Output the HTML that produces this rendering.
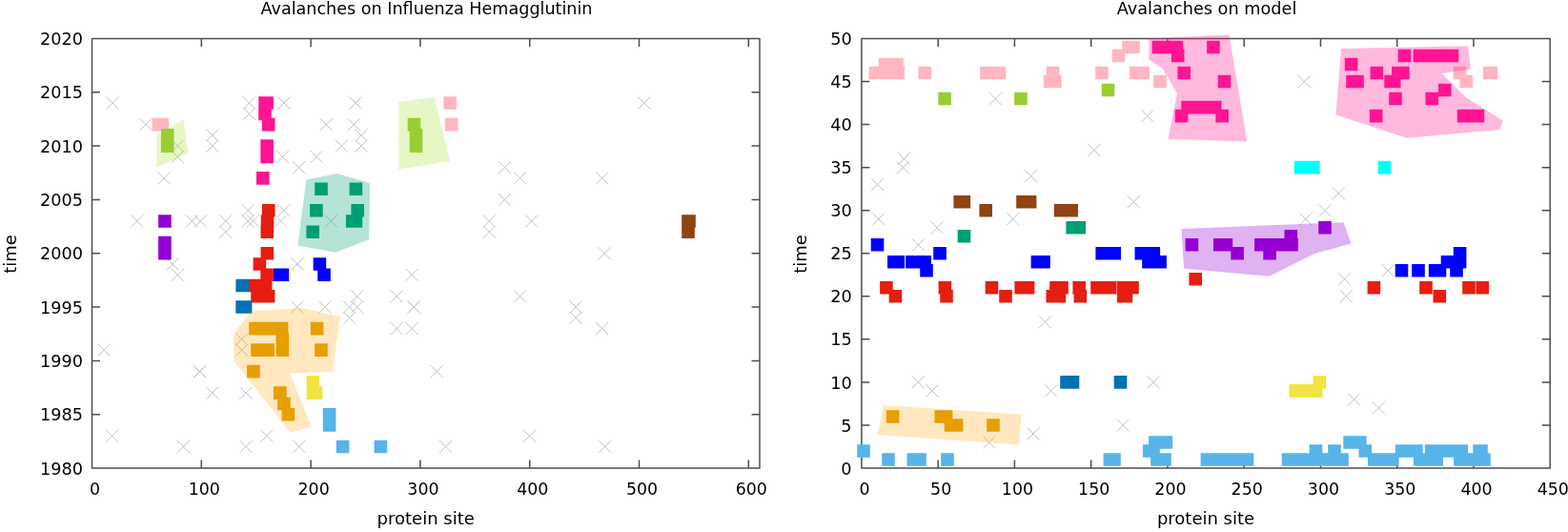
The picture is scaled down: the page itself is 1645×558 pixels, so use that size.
<!DOCTYPE html><html><head><meta charset="utf-8"><title>Avalanches</title><style>html,body{margin:0;padding:0;background:#fff;}svg{display:block;}text{font-family:'DejaVu Sans', 'Liberation Sans', sans-serif;font-size:18px;fill:#000;}</style></head><body>
<svg width="1645" height="558" viewBox="0 0 1645 558">
<rect width="1645" height="558" fill="#fff"/>
<path d="M111.7 101.57L124.7 114.57M111.7 114.57L124.7 101.57M291.5 101.57L304.5 114.57M291.5 114.57L304.5 101.57M146.5 124.1L159.5 137.1M146.5 137.1L159.5 124.1M179.8 146.62L192.8 159.62M179.8 159.62L192.8 146.62M179.8 157.89L192.8 170.89M179.8 170.89L192.8 157.89M216.4 135.36L229.4 148.36M216.4 148.36L229.4 135.36M216.4 146.62L229.4 159.62M216.4 159.62L229.4 146.62M165.8 180.41L178.8 193.41M165.8 193.41L178.8 180.41M137.2 225.46L150.2 238.46M137.2 238.46L150.2 225.46M194.9 225.46L207.9 238.46M194.9 238.46L207.9 225.46M203.9 225.46L216.9 238.46M203.9 238.46L216.9 225.46M230.2 225.46L243.2 238.46M230.2 238.46L243.2 225.46M230.2 236.72L243.2 249.72M230.2 249.72L243.2 236.72M174.5 270.51L187.5 283.51M174.5 283.51L187.5 270.51M179.8 281.77L192.8 294.77M179.8 294.77L192.8 281.77M102.8 360.61L115.8 373.61M102.8 373.61L115.8 360.61M203 383.14L216 396.14M203 396.14L216 383.14M203 383.14L216 396.14M203 396.14L216 383.14M203 383.14L216 396.14M203 396.14L216 383.14M216.4 405.66L229.4 418.66M216.4 418.66L229.4 405.66M111 450.71L124 463.71M111 463.71L124 450.71M185.8 461.98L198.8 474.98M185.8 474.98L198.8 461.98M255 101.57L268 114.57M255 114.57L268 101.57M255 112.84L268 125.84M255 125.84L268 112.84M291.5 101.57L304.5 114.57M291.5 114.57L304.5 101.57M335.7 124.1L348.7 137.1M335.7 137.1L348.7 124.1M366.4 101.57L379.4 114.57M366.4 114.57L379.4 101.57M364.7 124.1L377.7 137.1M364.7 137.1L377.7 124.1M372.5 135.36L385.5 148.36M372.5 148.36L385.5 135.36M372.5 146.62L385.5 159.62M372.5 159.62L385.5 146.62M351.8 146.62L364.8 159.62M351.8 159.62L364.8 146.62M289.8 157.89L302.8 170.89M289.8 170.89L302.8 157.89M307.3 169.15L320.3 182.15M307.3 182.15L320.3 169.15M325.5 157.89L338.5 170.89M325.5 170.89L338.5 157.89M340.8 225.46L353.8 238.46M340.8 238.46L353.8 225.46M253.6 214.2L266.6 227.2M253.6 227.2L266.6 214.2M253.6 225.46L266.6 238.46M253.6 238.46L266.6 225.46M259 225.46L272 238.46M259 238.46L272 225.46M291.2 214.2L304.2 227.2M291.2 227.2L304.2 214.2M288 225.46L301 238.46M288 238.46L301 225.46M305.5 270.51L318.5 283.51M305.5 283.51L318.5 270.51M305.2 315.56L318.2 328.56M305.2 328.56L318.2 315.56M334.3 315.56L347.3 328.56M334.3 328.56L347.3 315.56M368.2 304.3L381.2 317.3M368.2 317.3L381.2 304.3M368.2 315.56L381.2 328.56M368.2 328.56L381.2 315.56M360.1 315.56L373.1 328.56M360.1 328.56L373.1 315.56M360.1 326.82L373.1 339.82M360.1 339.82L373.1 326.82M247.2 349.35L260.2 362.35M247.2 362.35L260.2 349.35M247.2 360.61L260.2 373.61M247.2 373.61L260.2 360.61M251.5 405.66L264.5 418.66M251.5 418.66L264.5 405.66M273.4 450.71L286.4 463.71M273.4 463.71L286.4 450.71M251.5 461.98L264.5 474.98M251.5 474.98L264.5 461.98M307.4 461.98L320.4 474.98M307.4 474.98L320.4 461.98M523 169.15L536 182.15M523 182.15L536 169.15M669.4 101.57L682.4 114.57M669.4 114.57L682.4 101.57M539 180.41L552 193.41M539 193.41L552 180.41M625.1 180.41L638.1 193.41M625.1 193.41L638.1 180.41M522.9 202.94L535.9 215.94M522.9 215.94L535.9 202.94M551.1 225.46L564.1 238.46M551.1 238.46L564.1 225.46M627.7 259.25L640.7 272.25M627.7 272.25L640.7 259.25M539 304.3L552 317.3M539 317.3L552 304.3M597.6 315.56L610.6 328.56M597.6 328.56L610.6 315.56M597.6 326.82L610.6 339.82M597.6 339.82L610.6 326.82M625.1 338.09L638.1 351.09M625.1 351.09L638.1 338.09M506.8 225.46L519.8 238.46M506.8 238.46L519.8 225.46M506.8 236.72L519.8 249.72M506.8 249.72L519.8 236.72M425.5 281.77L438.5 294.77M425.5 294.77L438.5 281.77M409.6 304.3L422.6 317.3M409.6 317.3L422.6 304.3M427.7 315.56L440.7 328.56M427.7 328.56L440.7 315.56M427.7 315.56L440.7 328.56M427.7 328.56L440.7 315.56M409.6 338.09L422.6 351.09M409.6 351.09L422.6 338.09M425.5 338.09L438.5 351.09M425.5 351.09L438.5 338.09M451.6 383.14L464.6 396.14M451.6 396.14L464.6 383.14M549 450.71L562 463.71M549 463.71L562 450.71M628.3 461.98L641.3 474.98M628.3 474.98L641.3 461.98M461.2 461.98L474.2 474.98M461.2 474.98L474.2 461.98" stroke="#c2c2c2" stroke-width="1" fill="none"/>
<path d="M96.5 40.5H797V491H96.5ZM96.5 491v-8.5M96.5 40.5v8.5M211.3 491v-8.5M211.3 40.5v8.5M326.1 491v-8.5M326.1 40.5v8.5M440.9 491v-8.5M440.9 40.5v8.5M555.7 491v-8.5M555.7 40.5v8.5M670.5 491v-8.5M670.5 40.5v8.5M785.3 491v-8.5M785.3 40.5v8.5M96.5 491h8.5M797 491h-8.5M96.5 434.69h8.5M797 434.69h-8.5M96.5 378.38h8.5M797 378.38h-8.5M96.5 322.06h8.5M797 322.06h-8.5M96.5 265.75h8.5M797 265.75h-8.5M96.5 209.44h8.5M797 209.44h-8.5M96.5 153.12h8.5M797 153.12h-8.5M96.5 96.81h8.5M797 96.81h-8.5M96.5 40.5h8.5M797 40.5h-8.5" stroke="#4d4d4d" stroke-width="1.5" stroke-linejoin="round" fill="none"/>
<text transform="translate(99.5,519.3) scale(0.965,1)" text-anchor="middle">0</text>
<text transform="translate(214.3,519.3) scale(0.965,1)" text-anchor="middle">100</text>
<text transform="translate(329.1,519.3) scale(0.965,1)" text-anchor="middle">200</text>
<text transform="translate(443.9,519.3) scale(0.965,1)" text-anchor="middle">300</text>
<text transform="translate(558.7,519.3) scale(0.965,1)" text-anchor="middle">400</text>
<text transform="translate(673.5,519.3) scale(0.965,1)" text-anchor="middle">500</text>
<text transform="translate(788.3,519.3) scale(0.965,1)" text-anchor="middle">600</text>
<text transform="translate(86.9,497.6) scale(0.98,1)" text-anchor="end">1980</text>
<text transform="translate(86.9,441.29) scale(0.98,1)" text-anchor="end">1985</text>
<text transform="translate(86.9,384.98) scale(0.98,1)" text-anchor="end">1990</text>
<text transform="translate(86.9,328.66) scale(0.98,1)" text-anchor="end">1995</text>
<text transform="translate(86.9,272.35) scale(0.98,1)" text-anchor="end">2000</text>
<text transform="translate(86.9,216.04) scale(0.98,1)" text-anchor="end">2005</text>
<text transform="translate(86.9,159.72) scale(0.98,1)" text-anchor="end">2010</text>
<text transform="translate(86.9,103.41) scale(0.98,1)" text-anchor="end">2015</text>
<text transform="translate(86.9,47.1) scale(0.98,1)" text-anchor="end">2020</text>
<path d="M159.6 123.8h13.6v13.6h-13.6zM163.5 123.8h13.6v13.6h-13.6zM465.4 101.27h13.6v13.6h-13.6zM466.8 123.8h13.6v13.6h-13.6z" fill="#ffb6c1"/>
<polygon points="164.6,141.3 192.5,125.3 197.3,160.5 164.4,175.7" fill="#9bdb17" fill-opacity="0.25"/>
<path d="M168.9 135.06h13.6v13.6h-13.6zM168.9 146.32h13.6v13.6h-13.6z" fill="#9acd32"/>
<polygon points="418.3,106.9 455.7,101.9 472,169.2 418.3,177.8" fill="#9bdb17" fill-opacity="0.25"/>
<path d="M427.7 123.8h13.6v13.6h-13.6zM429.7 135.06h13.6v13.6h-13.6zM429.7 146.32h13.6v13.6h-13.6z" fill="#9acd32"/>
<path d="M271.3 101.27h13.6v13.6h-13.6zM273.3 101.27h13.6v13.6h-13.6zM271.2 112.54h13.6v13.6h-13.6zM274.9 123.8h13.6v13.6h-13.6zM273.3 146.32h13.6v13.6h-13.6zM273.3 157.59h13.6v13.6h-13.6zM269 180.11h13.6v13.6h-13.6z" fill="#ff1493"/>
<path d="M166.1 225.16h13.6v13.6h-13.6zM166.1 247.69h13.6v13.6h-13.6zM166.1 258.95h13.6v13.6h-13.6z" fill="#9400d3"/>
<polygon points="321.3,188.4 353.9,181.9 388.2,192.1 387.1,251 352.7,264.7 312.4,257.4" fill="#009e73" fill-opacity="0.29"/>
<path d="M330.2 191.38h13.6v13.6h-13.6zM366.6 191.38h13.6v13.6h-13.6zM325.1 213.9h13.6v13.6h-13.6zM368.4 213.9h13.6v13.6h-13.6zM362.9 225.16h13.6v13.6h-13.6zM366.6 225.16h13.6v13.6h-13.6zM321.4 236.42h13.6v13.6h-13.6z" fill="#009e73"/>
<path d="M274.9 213.9h13.6v13.6h-13.6zM273.7 225.16h13.6v13.6h-13.6zM273.5 236.42h13.6v13.6h-13.6zM273.5 258.95h13.6v13.6h-13.6zM265.6 270.21h13.6v13.6h-13.6zM273.3 281.47h13.6v13.6h-13.6zM261 292.74h13.6v13.6h-13.6zM271.8 292.74h13.6v13.6h-13.6zM263.2 304h13.6v13.6h-13.6zM274.8 304h13.6v13.6h-13.6z" fill="#e51e10"/>
<path d="M286.9 281.47h13.6v13.6h-13.6zM289.6 281.47h13.6v13.6h-13.6zM328.6 270.21h13.6v13.6h-13.6zM333.2 281.47h13.6v13.6h-13.6z" fill="#0000ff"/>
<path d="M247.4 292.74h13.6v13.6h-13.6zM247.3 315.26h13.6v13.6h-13.6zM250.8 315.26h13.6v13.6h-13.6z" fill="#0072b2"/>
<polygon points="245,351 263.3,326.2 316,323 356.9,332 348.9,390 304.2,391.5 326.8,447.8 304.2,453.4 245.5,378.6" fill="#ffa500" fill-opacity="0.25"/>
<path d="M261.2 337.79h13.6v13.6h-13.6zM270.4 337.79h13.6v13.6h-13.6zM279.6 337.79h13.6v13.6h-13.6zM288.8 337.79h13.6v13.6h-13.6zM289.5 349.05h13.6v13.6h-13.6zM263.2 360.31h13.6v13.6h-13.6zM274.4 360.31h13.6v13.6h-13.6zM289.5 360.31h13.6v13.6h-13.6zM325.8 337.79h13.6v13.6h-13.6zM330.1 360.31h13.6v13.6h-13.6zM259.1 382.84h13.6v13.6h-13.6zM287 405.36h13.6v13.6h-13.6zM291.2 416.62h13.6v13.6h-13.6zM295.6 427.89h13.6v13.6h-13.6z" fill="#e69f00"/>
<path d="M321.6 394.1h13.6v13.6h-13.6zM321.6 405.36h13.6v13.6h-13.6zM324.7 405.36h13.6v13.6h-13.6z" fill="#f0e442"/>
<path d="M338.8 427.89h13.6v13.6h-13.6zM338.8 439.15h13.6v13.6h-13.6zM352.8 461.68h13.6v13.6h-13.6zM392.6 461.68h13.6v13.6h-13.6z" fill="#56b4e9"/>
<path d="M715.2 225.16h13.6v13.6h-13.6zM716.2 225.16h13.6v13.6h-13.6zM715.2 236.42h13.6v13.6h-13.6z" fill="#8f4412"/>
<path d="M1037.7 97.07L1050.7 110.07M1037.7 110.07L1050.7 97.07M941.9 160.14L954.9 173.14M941.9 173.14L954.9 160.14M940.7 169.15L953.7 182.15M940.7 182.15L953.7 169.15M914.1 187.17L927.1 200.17M914.1 200.17L927.1 187.17M915.3 223.21L928.3 236.21M915.3 236.21L928.3 223.21M976.5 232.22L989.5 245.22M976.5 245.22L989.5 232.22M956.9 250.24L969.9 263.24M956.9 263.24L969.9 250.24M1056.1 223.21L1069.1 236.21M1056.1 236.21L1069.1 223.21M1075.1 178.16L1088.1 191.16M1075.1 191.16L1088.1 178.16M1197.3 115.09L1210.3 128.09M1197.3 128.09L1210.3 115.09M1141.4 151.13L1154.4 164.13M1141.4 164.13L1154.4 151.13M1361.9 79.05L1374.9 92.05M1361.9 92.05L1374.9 79.05M1182.8 205.19L1195.8 218.19M1182.8 218.19L1195.8 205.19M1397.7 196.18L1410.7 209.18M1397.7 209.18L1410.7 196.18M1383.5 214.2L1396.5 227.2M1383.5 227.2L1396.5 214.2M1363.3 223.21L1376.3 236.21M1363.3 236.21L1376.3 223.21M1404.1 286.28L1417.1 299.28M1404.1 299.28L1417.1 286.28M1405.8 304.3L1418.8 317.3M1405.8 317.3L1418.8 304.3M1449.8 277.27L1462.8 290.27M1449.8 290.27L1462.8 277.27M956.9 394.4L969.9 407.4M956.9 407.4L969.9 394.4M971.4 403.41L984.4 416.41M971.4 416.41L984.4 403.41M1031.2 457.47L1044.2 470.47M1031.2 470.47L1044.2 457.47M1089.8 331.33L1102.8 344.33M1089.8 344.33L1102.8 331.33M1203.5 394.4L1216.5 407.4M1203.5 407.4L1216.5 394.4M1096.1 403.41L1109.1 416.41M1096.1 416.41L1109.1 403.41M1077.5 448.46L1090.5 461.46M1077.5 461.46L1090.5 448.46M1171.7 439.45L1184.7 452.45M1171.7 452.45L1184.7 439.45M1414 412.42L1427 425.42M1414 425.42L1427 412.42M1439.9 421.43L1452.9 434.43M1439.9 434.43L1452.9 421.43" stroke="#c2c2c2" stroke-width="1" fill="none"/>
<path d="M903.9 40.5H1626.2V491H903.9ZM903.9 491v-8.5M903.9 40.5v8.5M984.16 491v-8.5M984.16 40.5v8.5M1064.41 491v-8.5M1064.41 40.5v8.5M1144.67 491v-8.5M1144.67 40.5v8.5M1224.92 491v-8.5M1224.92 40.5v8.5M1305.18 491v-8.5M1305.18 40.5v8.5M1385.43 491v-8.5M1385.43 40.5v8.5M1465.69 491v-8.5M1465.69 40.5v8.5M1545.94 491v-8.5M1545.94 40.5v8.5M1626.2 491v-8.5M1626.2 40.5v8.5M903.9 491h8.5M1626.2 491h-8.5M903.9 445.95h8.5M1626.2 445.95h-8.5M903.9 400.9h8.5M1626.2 400.9h-8.5M903.9 355.85h8.5M1626.2 355.85h-8.5M903.9 310.8h8.5M1626.2 310.8h-8.5M903.9 265.75h8.5M1626.2 265.75h-8.5M903.9 220.7h8.5M1626.2 220.7h-8.5M903.9 175.65h8.5M1626.2 175.65h-8.5M903.9 130.6h8.5M1626.2 130.6h-8.5M903.9 85.55h8.5M1626.2 85.55h-8.5M903.9 40.5h8.5M1626.2 40.5h-8.5" stroke="#4d4d4d" stroke-width="1.5" stroke-linejoin="round" fill="none"/>
<text transform="translate(906.9,519.3) scale(0.965,1)" text-anchor="middle">0</text>
<text transform="translate(987.16,519.3) scale(0.965,1)" text-anchor="middle">50</text>
<text transform="translate(1067.41,519.3) scale(0.965,1)" text-anchor="middle">100</text>
<text transform="translate(1147.67,519.3) scale(0.965,1)" text-anchor="middle">150</text>
<text transform="translate(1227.92,519.3) scale(0.965,1)" text-anchor="middle">200</text>
<text transform="translate(1308.18,519.3) scale(0.965,1)" text-anchor="middle">250</text>
<text transform="translate(1388.43,519.3) scale(0.965,1)" text-anchor="middle">300</text>
<text transform="translate(1468.69,519.3) scale(0.965,1)" text-anchor="middle">350</text>
<text transform="translate(1548.94,519.3) scale(0.965,1)" text-anchor="middle">400</text>
<text transform="translate(1629.2,519.3) scale(0.965,1)" text-anchor="middle">450</text>
<text transform="translate(893.6,497.6) scale(0.98,1)" text-anchor="end">0</text>
<text transform="translate(893.6,452.55) scale(0.98,1)" text-anchor="end">5</text>
<text transform="translate(893.6,407.5) scale(0.98,1)" text-anchor="end">10</text>
<text transform="translate(893.6,362.45) scale(0.98,1)" text-anchor="end">15</text>
<text transform="translate(893.6,317.4) scale(0.98,1)" text-anchor="end">20</text>
<text transform="translate(893.6,272.35) scale(0.98,1)" text-anchor="end">25</text>
<text transform="translate(893.6,227.3) scale(0.98,1)" text-anchor="end">30</text>
<text transform="translate(893.6,182.25) scale(0.98,1)" text-anchor="end">35</text>
<text transform="translate(893.6,137.2) scale(0.98,1)" text-anchor="end">40</text>
<text transform="translate(893.6,92.15) scale(0.98,1)" text-anchor="end">45</text>
<text transform="translate(893.6,47.1) scale(0.98,1)" text-anchor="end">50</text>
<path d="M921.8 60.73h13.6v13.6h-13.6zM934.2 60.73h13.6v13.6h-13.6zM911.6 69.74h13.6v13.6h-13.6zM923.2 69.74h13.6v13.6h-13.6zM935.5 69.74h13.6v13.6h-13.6zM963.4 69.74h13.6v13.6h-13.6zM1028.2 69.74h13.6v13.6h-13.6zM1041.7 69.74h13.6v13.6h-13.6zM1097.7 69.74h13.6v13.6h-13.6zM1149.2 69.74h13.6v13.6h-13.6zM1184.9 69.74h13.6v13.6h-13.6zM1192.6 69.74h13.6v13.6h-13.6zM1094.7 78.75h13.6v13.6h-13.6zM1100 78.75h13.6v13.6h-13.6zM1210.2 78.75h13.6v13.6h-13.6zM1177.2 42.71h13.6v13.6h-13.6zM1182.2 42.71h13.6v13.6h-13.6zM1166.7 51.72h13.6v13.6h-13.6z" fill="#ffb6c1"/>
<path d="M984.3 96.77h13.6v13.6h-13.6zM1064.1 96.77h13.6v13.6h-13.6zM1155.7 87.76h13.6v13.6h-13.6z" fill="#9acd32"/>
<polygon points="1205.4,40.4 1289.5,36.5 1308.4,148.4 1225.4,146 1234.9,97.7 1219.7,71.7 1205.4,62.5" fill="#ff1493" fill-opacity="0.3"/>
<path d="M1208.6 42.71h13.6v13.6h-13.6zM1218.2 42.71h13.6v13.6h-13.6zM1227.6 42.71h13.6v13.6h-13.6zM1266.1 42.71h13.6v13.6h-13.6zM1228.9 51.72h13.6v13.6h-13.6zM1235.4 69.74h13.6v13.6h-13.6zM1277.7 78.75h13.6v13.6h-13.6zM1239.2 105.78h13.6v13.6h-13.6zM1248.7 105.78h13.6v13.6h-13.6zM1258.2 105.78h13.6v13.6h-13.6zM1267.9 105.78h13.6v13.6h-13.6zM1232.7 114.79h13.6v13.6h-13.6zM1275.4 114.79h13.6v13.6h-13.6z" fill="#ff1493"/>
<path d="M1524.9 69.74h13.6v13.6h-13.6zM1555.9 69.74h13.6v13.6h-13.6zM1557.6 69.74h13.6v13.6h-13.6zM1531.4 78.75h13.6v13.6h-13.6z" fill="#ffb6c1"/>
<polygon points="1407.1,51.1 1540,48.3 1542.8,72.6 1512.5,76.9 1539,103 1576.8,126.4 1573.3,136.1 1476.1,144.7 1401.5,120.6" fill="#ff1493" fill-opacity="0.3"/>
<path d="M1466.7 51.72h13.6v13.6h-13.6zM1482.6 51.72h13.6v13.6h-13.6zM1493.2 51.72h13.6v13.6h-13.6zM1505.2 51.72h13.6v13.6h-13.6zM1516.7 51.72h13.6v13.6h-13.6zM1410.8 60.73h13.6v13.6h-13.6zM1437.5 69.74h13.6v13.6h-13.6zM1460 69.74h13.6v13.6h-13.6zM1465.1 69.74h13.6v13.6h-13.6zM1412.2 78.75h13.6v13.6h-13.6zM1417.2 78.75h13.6v13.6h-13.6zM1452.3 78.75h13.6v13.6h-13.6zM1455.9 78.75h13.6v13.6h-13.6zM1509 87.76h13.6v13.6h-13.6zM1457.2 96.77h13.6v13.6h-13.6zM1495.5 96.77h13.6v13.6h-13.6zM1436.9 114.79h13.6v13.6h-13.6zM1528.8 114.79h13.6v13.6h-13.6zM1536.2 114.79h13.6v13.6h-13.6zM1543.6 114.79h13.6v13.6h-13.6z" fill="#ff1493"/>
<path d="M1357.7 168.85h13.6v13.6h-13.6zM1371 168.85h13.6v13.6h-13.6zM1445.7 168.85h13.6v13.6h-13.6z" fill="#00ffff"/>
<path d="M1000.4 204.89h13.6v13.6h-13.6zM1004.5 204.89h13.6v13.6h-13.6zM1066.2 204.89h13.6v13.6h-13.6zM1073.8 204.89h13.6v13.6h-13.6zM1027.4 213.9h13.6v13.6h-13.6zM1105.8 213.9h13.6v13.6h-13.6zM1117.4 213.9h13.6v13.6h-13.6z" fill="#8f4412"/>
<path d="M1004.7 240.93h13.6v13.6h-13.6zM1118.4 231.92h13.6v13.6h-13.6zM1125.4 231.92h13.6v13.6h-13.6z" fill="#009e73"/>
<polygon points="1239.4,240 1409.6,233.3 1417.4,255.4 1379.2,266.1 1331.6,289.8 1242.1,281.7" fill="#9400d3" fill-opacity="0.3"/>
<path d="M1243.6 249.94h13.6v13.6h-13.6zM1273 249.94h13.6v13.6h-13.6zM1279.6 249.94h13.6v13.6h-13.6zM1316 249.94h13.6v13.6h-13.6zM1325.3 249.94h13.6v13.6h-13.6zM1338.9 249.94h13.6v13.6h-13.6zM1348.2 249.94h13.6v13.6h-13.6zM1291.3 258.95h13.6v13.6h-13.6zM1325.3 258.95h13.6v13.6h-13.6zM1347.5 240.93h13.6v13.6h-13.6zM1383.2 231.92h13.6v13.6h-13.6z" fill="#9400d3"/>
<path d="M913.7 249.94h13.6v13.6h-13.6zM979.2 258.95h13.6v13.6h-13.6zM1149.4 258.95h13.6v13.6h-13.6zM1162.4 258.95h13.6v13.6h-13.6zM1190.5 258.95h13.6v13.6h-13.6zM1203.5 258.95h13.6v13.6h-13.6zM1524.8 258.95h13.6v13.6h-13.6zM931 267.96h13.6v13.6h-13.6zM935.5 267.96h13.6v13.6h-13.6zM950.1 267.96h13.6v13.6h-13.6zM963.4 267.96h13.6v13.6h-13.6zM1081.6 267.96h13.6v13.6h-13.6zM1088.2 267.96h13.6v13.6h-13.6zM1198.2 267.96h13.6v13.6h-13.6zM1210.3 267.96h13.6v13.6h-13.6zM1511.7 267.96h13.6v13.6h-13.6zM1524.8 267.96h13.6v13.6h-13.6zM965.2 276.97h13.6v13.6h-13.6zM1463.7 276.97h13.6v13.6h-13.6zM1481.2 276.97h13.6v13.6h-13.6zM1498.8 276.97h13.6v13.6h-13.6zM1503.7 276.97h13.6v13.6h-13.6zM1521.2 276.97h13.6v13.6h-13.6z" fill="#0000ff"/>
<path d="M1247.4 285.98h13.6v13.6h-13.6zM923.1 294.99h13.6v13.6h-13.6zM984.6 294.99h13.6v13.6h-13.6zM1033.7 294.99h13.6v13.6h-13.6zM1064.4 294.99h13.6v13.6h-13.6zM1071.8 294.99h13.6v13.6h-13.6zM1101.2 294.99h13.6v13.6h-13.6zM1107.2 294.99h13.6v13.6h-13.6zM1125.4 294.99h13.6v13.6h-13.6zM1144.2 294.99h13.6v13.6h-13.6zM1157.7 294.99h13.6v13.6h-13.6zM1171.8 294.99h13.6v13.6h-13.6zM1181.2 294.99h13.6v13.6h-13.6zM1434.6 294.99h13.6v13.6h-13.6zM1489.2 294.99h13.6v13.6h-13.6zM1534.2 294.99h13.6v13.6h-13.6zM1548.4 294.99h13.6v13.6h-13.6zM932.6 304h13.6v13.6h-13.6zM986.2 304h13.6v13.6h-13.6zM1048.2 304h13.6v13.6h-13.6zM1097.5 304h13.6v13.6h-13.6zM1104.5 304h13.6v13.6h-13.6zM1126.6 304h13.6v13.6h-13.6zM1171.8 304h13.6v13.6h-13.6zM1174.6 304h13.6v13.6h-13.6zM1503.5 304h13.6v13.6h-13.6z" fill="#e51e10"/>
<path d="M1112.2 394.1h13.6v13.6h-13.6zM1118.7 394.1h13.6v13.6h-13.6zM1168.7 394.1h13.6v13.6h-13.6z" fill="#0072b2"/>
<path d="M1377.5 394.1h13.6v13.6h-13.6zM1352.4 403.11h13.6v13.6h-13.6zM1363.2 403.11h13.6v13.6h-13.6zM1373.8 403.11h13.6v13.6h-13.6z" fill="#f0e442"/>
<polygon points="926.8,424.9 1071.5,434.6 1069.1,466.6 920.6,455.9" fill="#ffa500" fill-opacity="0.25"/>
<path d="M929.8 430.14h13.6v13.6h-13.6zM980.4 430.14h13.6v13.6h-13.6zM985.8 430.14h13.6v13.6h-13.6zM990.7 439.15h13.6v13.6h-13.6zM996.7 439.15h13.6v13.6h-13.6zM1035.2 439.15h13.6v13.6h-13.6z" fill="#e69f00"/>
<path d="M1205 457.17h13.6v13.6h-13.6zM1210.8 457.17h13.6v13.6h-13.6zM1216.6 457.17h13.6v13.6h-13.6zM1409.3 457.17h13.6v13.6h-13.6zM1420 457.17h13.6v13.6h-13.6zM899.2 466.18h13.6v13.6h-13.6zM1198.9 466.18h13.6v13.6h-13.6zM1203.2 466.18h13.6v13.6h-13.6zM1373.7 466.18h13.6v13.6h-13.6zM1393.2 466.18h13.6v13.6h-13.6zM1425.5 466.18h13.6v13.6h-13.6zM1463.9 466.18h13.6v13.6h-13.6zM1471.5 466.18h13.6v13.6h-13.6zM1479.1 466.18h13.6v13.6h-13.6zM1494.8 466.18h13.6v13.6h-13.6zM1505.37 466.18h13.6v13.6h-13.6zM1515.93 466.18h13.6v13.6h-13.6zM1526.5 466.18h13.6v13.6h-13.6zM1545.3 466.18h13.6v13.6h-13.6zM1547.2 466.18h13.6v13.6h-13.6zM925.2 475.19h13.6v13.6h-13.6zM951.5 475.19h13.6v13.6h-13.6zM958.2 475.19h13.6v13.6h-13.6zM987.2 475.19h13.6v13.6h-13.6zM1157.6 475.19h13.6v13.6h-13.6zM1162.2 475.19h13.6v13.6h-13.6zM1207.1 475.19h13.6v13.6h-13.6zM1215.2 475.19h13.6v13.6h-13.6zM1259.6 475.19h13.6v13.6h-13.6zM1270.12 475.19h13.6v13.6h-13.6zM1280.65 475.19h13.6v13.6h-13.6zM1291.17 475.19h13.6v13.6h-13.6zM1301.7 475.19h13.6v13.6h-13.6zM1344.7 475.19h13.6v13.6h-13.6zM1354.12 475.19h13.6v13.6h-13.6zM1363.53 475.19h13.6v13.6h-13.6zM1372.95 475.19h13.6v13.6h-13.6zM1382.37 475.19h13.6v13.6h-13.6zM1391.78 475.19h13.6v13.6h-13.6zM1401.2 475.19h13.6v13.6h-13.6zM1435 475.19h13.6v13.6h-13.6zM1444.5 475.19h13.6v13.6h-13.6zM1454 475.19h13.6v13.6h-13.6zM1483 475.19h13.6v13.6h-13.6zM1491.7 475.19h13.6v13.6h-13.6zM1500.4 475.19h13.6v13.6h-13.6zM1525.1 475.19h13.6v13.6h-13.6zM1533.47 475.19h13.6v13.6h-13.6zM1541.83 475.19h13.6v13.6h-13.6zM1550.2 475.19h13.6v13.6h-13.6z" fill="#56b4e9"/>
<text transform="translate(447.5,15.3) scale(0.977,1)" text-anchor="middle">Avalanches on Influenza Hemagglutinin</text>
<text transform="translate(1266,15.3) scale(0.983,1)" text-anchor="middle">Avalanches on model</text>
<text x="446.7" y="550.2" text-anchor="middle">protein site</text>
<text x="1265" y="550.2" text-anchor="middle">protein site</text>
<text transform="translate(16.8,266.5) rotate(-90)" text-anchor="middle">time</text>
<text transform="translate(846.2,266.5) rotate(-90)" text-anchor="middle">time</text>
</svg></body></html>
